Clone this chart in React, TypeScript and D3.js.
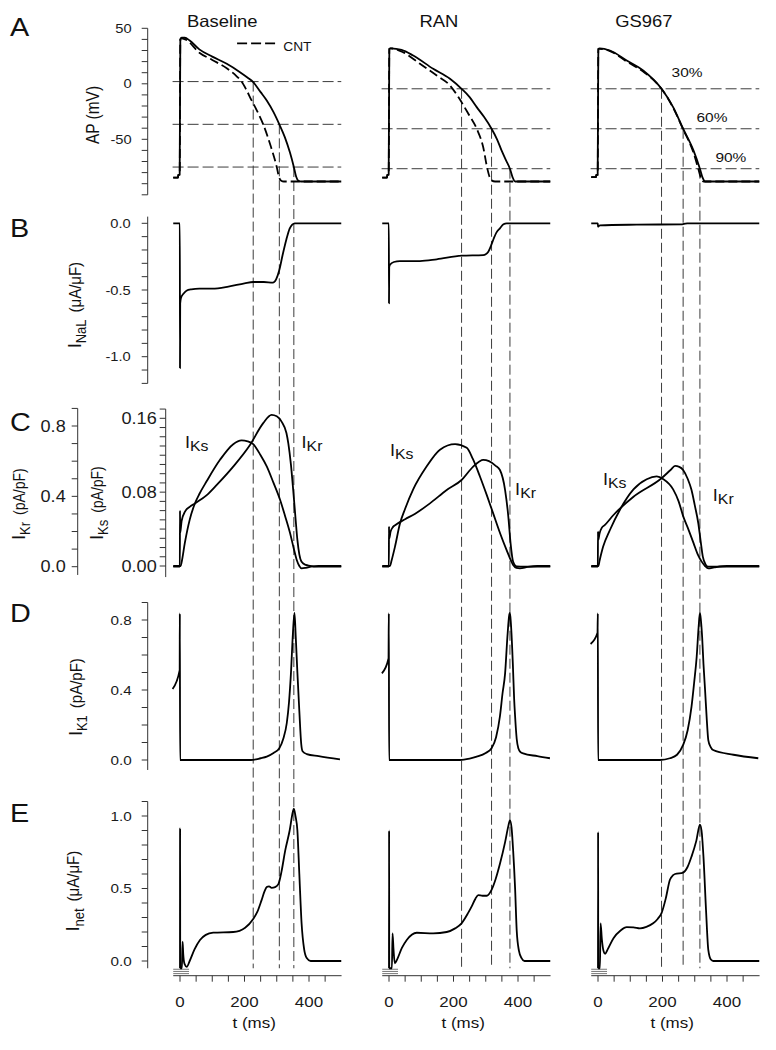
import React from "react";
import * as d3 from "d3";

type P = [number, number];

const columns = ["Baseline", "RAN", "GS967"];

// action potentials (mV), solid = drug, dashed = CNT
const apBase: P[] = [[-21, -84.5], [-6, -84.5], [-5.5, -82], [-1, -82], [1, 40], [5, 41.5], [15, 41.5], [30, 39], [60, 31], [100, 24.5], [145, 18], [186, 10.5], [210, 5.5], [227, 1.5], [250, -7.5], [269, -15], [290, -25.5], [308, -36.5], [325, -48], [341, -62], [353, -75], [360, -83.5], [367, -87.3], [376, -88], [500, -88]];
const apBaseCnt: P[] = [[-21, -84.5], [-6, -84.5], [-5.5, -82], [-1, -82], [1, 40], [5, 41], [20, 39.5], [60, 28], [100, 21.5], [145, 14], [175, 7], [191, 2], [205, -5], [222, -15], [240, -25], [258, -36.5], [280, -55], [300, -75], [307, -84], [314, -87.3], [322, -88], [500, -88]];
const apRan: P[] = [[-21, -84.5], [-6, -84.5], [-5.5, -82], [-1, -82], [1, 31.5], [5, 32], [39, 30.6], [75, 25.5], [137, 13.5], [189, 4.5], [225, -4.5], [250, -12], [272, -21], [295, -30], [318, -40.5], [335, -50], [349, -60], [363, -69], [375, -76.5], [383, -84], [391, -88], [500, -88]];
const apRanCnt: P[] = [[-21, -84.5], [-6, -84.5], [-5.5, -82], [-1, -82], [1, 31.5], [5, 32], [43, 28.5], [96, 18], [148, 7.5], [189, -1.5], [215, -12], [246, -27], [272, -40.5], [292, -57], [305, -76.5], [312, -84], [318, -87], [329, -88], [500, -88]];
const apGs: P[] = [[-21, -84], [-6, -84], [-5.5, -82], [-1, -82], [1, 31.5], [5, 32], [37, 30], [89, 21], [140, 12], [197, -4.5], [233, -21], [264, -40.5], [296, -60], [316, -76.5], [325, -85], [332, -88], [500, -88]];
const apGsCnt: P[] = [[-21, -84], [-6, -84], [-5.5, -82], [-1, -82], [1, 31.5], [5, 31.5], [37, 29.5], [89, 20], [140, 11], [197, -4.5], [233, -21.5], [264, -41], [296, -62], [311, -76.5], [320, -85.5], [328, -88], [500, -88]];

// APD30/60/90 levels (mV) and times (ms)
const apdLevels = [[2, -36.5, -75], [-4.5, -40.5, -76.5], [-4.5, -40.5, -76.5]];
const apdTimes = [[227, 308, 353], [225, 318, 375], [197, 264, 316]];
const apdLabels = ["30%", "60%", "90%"];

// late sodium current (uA/uF)
const nalBase: P[] = [[-21, 0], [-0.5, 0], [0, -1.085], [0.6, -0.6], [3, -0.56], [10, -0.53], [20, -0.505], [35, -0.495], [60, -0.49], [100, -0.49], [150, -0.475], [200, -0.45], [227, -0.44], [260, -0.44], [288, -0.445], [298, -0.42], [308, -0.35], [318, -0.24], [330, -0.12], [340, -0.04], [348, -0.01], [356, 0], [500, 0]];
const nalRan: P[] = [[-21, 0], [-0.5, 0], [0, -0.6], [0.6, -0.33], [3, -0.31], [15, -0.29], [34, -0.283], [96, -0.283], [148, -0.27], [225, -0.243], [292, -0.238], [300, -0.232], [308, -0.213], [316, -0.17], [323, -0.125], [333, -0.07], [344, -0.0375], [355, -0.008], [365, 0], [500, 0]];
const nalGs: P[] = [[-21, 0], [-0.5, 0], [0, -0.025], [3, -0.02], [6, -0.015], [120, -0.01], [261, -0.0075], [270, -0.003], [276, 0], [500, 0]];

// IKs (pA/pF, right axis)
const ksBase: P[] = [[-21, 0], [2, 0], [5, 0.004], [15, 0.025], [30, 0.05], [46.5, 0.068], [60, 0.078], [83, 0.092], [124, 0.115], [165, 0.132], [191, 0.136], [210, 0.135], [227, 0.132], [250, 0.12], [269, 0.108], [290, 0.09], [310, 0.072], [326, 0.054], [341, 0.036], [352, 0.02], [362, 0.0065], [370, 0], [377, -0.0025], [390, -0.002], [410, -0.0005], [430, 0], [500, 0]];
const ksRan: P[] = [[-21, 0], [3, 0], [8, 0.006], [18.6, 0.021], [34, 0.046], [50, 0.062], [75, 0.083], [117, 0.108], [158, 0.126], [205, 0.132], [241, 0.128], [260, 0.116], [282, 0.097], [303, 0.077], [323, 0.057], [345, 0.035], [365, 0.017], [378, 0.006], [385, 0.001], [395, -0.002], [406, -0.0025], [430, -0.001], [460, 0], [500, 0]];
const ksGs: P[] = [[-21, 0], [1, 0], [5, 0.006], [16, 0.021], [37, 0.039], [68, 0.061], [110, 0.083], [151, 0.094], [182, 0.097], [203, 0.094], [233, 0.083], [250, 0.07], [264, 0.054], [280, 0.04], [296, 0.025], [310, 0.012], [321, 0.005], [332, 0], [342, -0.0025], [360, -0.0015], [400, 0], [500, 0]];

// IKr (pA/pF, left axis)
const krBase: P[] = [[-21, 0], [-0.5, 0], [0, 0.318], [0.5, 0.19], [5, 0.26], [15.5, 0.313], [30, 0.34], [46.5, 0.36], [83, 0.407], [114, 0.465], [165, 0.569], [217, 0.692], [258, 0.816], [284, 0.863], [300, 0.855], [315, 0.825], [330, 0.76], [336, 0.7], [344, 0.58], [351, 0.436], [358, 0.28], [364, 0.152], [370, 0.07], [377, 0.028], [390, 0.01], [403, 0.005], [420, 0], [500, 0]];
const krRan: P[] = [[-21, 0], [-0.5, 0], [0, 0.228], [0.5, 0.16], [5, 0.2], [12, 0.225], [20, 0.237], [50, 0.27], [80, 0.3], [127, 0.36], [179, 0.436], [225, 0.493], [261, 0.569], [280, 0.598], [292, 0.607], [310, 0.6], [330, 0.575], [344, 0.55], [360, 0.436], [370, 0.285], [377, 0.133], [385, 0.028], [396, 0.002], [420, 0], [500, 0]];
const krGs: P[] = [[-21, 0], [-0.5, 0], [0, 0.2], [0.5, 0.15], [5, 0.19], [12, 0.222], [20, 0.235], [48, 0.294], [110, 0.398], [197, 0.503], [225, 0.55], [239, 0.573], [252, 0.568], [264, 0.55], [278, 0.5], [290, 0.436], [300, 0.35], [311, 0.247], [318, 0.15], [325, 0.057], [333, 0.015], [342, 0], [500, 0]];

// IK1 (pA/pF)
const k1Base: P[] = [[-23, 0.406], [-1, 0.514], [-0.5, 0.838], [0.3, 0], [220, 0], [250, 0.01], [269, 0.019], [290, 0.04], [308, 0.067], [320, 0.12], [331, 0.21], [338, 0.33], [344, 0.495], [350, 0.72], [355, 0.84], [359, 0.7], [364, 0.5], [370, 0.28], [376, 0.09], [380, 0.05], [393, 0.034], [430, 0.022], [496, 0.003]];
const k1Ran: P[] = [[-22, 0.495], [-1.5, 0.58], [-0.5, 0.838], [0.3, 0], [220, 0], [250, 0.008], [272, 0.019], [300, 0.04], [318, 0.067], [332, 0.13], [344, 0.25], [352, 0.38], [360, 0.495], [367, 0.7], [373, 0.83], [375, 0.84], [378, 0.78], [384, 0.55], [388, 0.35], [391, 0.25], [396, 0.12], [401, 0.067], [408, 0.045], [416, 0.038], [460, 0.022], [499, 0.01]];
const k1Gs: P[] = [[-23, 0.663], [-1.5, 0.727], [-0.5, 0.838], [0.3, 0], [192, 0], [223, 0.01], [245, 0.03], [264, 0.086], [278, 0.17], [290, 0.305], [298, 0.44], [306, 0.59], [312, 0.76], [316, 0.84], [319, 0.8], [323, 0.7], [327, 0.55], [332, 0.4], [337, 0.24], [342, 0.114], [349, 0.075], [357, 0.057], [420, 0.03], [497, 0.01]];

// net current (uA/uF)
const netBase: P[] = [[0, -0.05], [0.3, 0.915], [0.7, -0.05], [6, -0.05], [8, 0.133], [10, 0.05], [14, -0.02], [21, -0.04], [30, 0], [45, 0.08], [62, 0.145], [80, 0.18], [103, 0.195], [165, 0.2], [202, 0.23], [227, 0.29], [240, 0.34], [253, 0.42], [262, 0.48], [269, 0.51], [276, 0.515], [284, 0.505], [295, 0.51], [305, 0.53], [315, 0.62], [326, 0.76], [340, 0.9], [350, 1.03], [353, 1.05], [358, 1.0], [364, 0.9], [370, 0.6], [377, 0.26], [385, 0.08], [393, 0.02], [405, 0], [500, 0]];
const netRan: P[] = [[0, -0.05], [0.3, 0.9], [0.7, -0.05], [9, -0.05], [11, 0.19], [14, 0.08], [18, -0.016], [25, 0.01], [40, 0.09], [55, 0.145], [86, 0.195], [137, 0.19], [179, 0.2], [205, 0.225], [225, 0.26], [245, 0.33], [256, 0.375], [268, 0.43], [277, 0.455], [290, 0.45], [303, 0.45], [318, 0.49], [330, 0.56], [344, 0.67], [360, 0.82], [370, 0.93], [375, 0.97], [380, 0.92], [385, 0.76], [391, 0.5], [396, 0.21], [403, 0.07], [411, 0.02], [420, 0], [500, 0]];
const netGs: P[] = [[0, -0.05], [0.3, 0.89], [0.7, -0.05], [6, -0.05], [8, 0.26], [12, 0.15], [17, 0.07], [22, 0.05], [30, 0.08], [48, 0.157], [70, 0.21], [89, 0.233], [110, 0.232], [130, 0.225], [150, 0.235], [171, 0.26], [185, 0.29], [197, 0.33], [210, 0.43], [223, 0.56], [232, 0.59], [239, 0.6], [264, 0.61], [278, 0.65], [290, 0.72], [305, 0.83], [316, 0.94], [321, 0.9], [327, 0.72], [335, 0.35], [342, 0.077], [350, 0.01], [357, 0], [500, 0]];
const netClipLevels = [-0.057, -0.072, -0.087];

const xTicks = d3.range(0, 451, 50);
const xLabels = [0, 200, 400];

const apSolid = [apBase, apRan, apGs];
const apCnt = [apBaseCnt, apRanCnt, apGsCnt];
const nal = [nalBase, nalRan, nalGs];
const iks = [ksBase, ksRan, ksGs];
const ikr = [krBase, krRan, krGs];
const ik1 = [k1Base, k1Ran, k1Gs];
const inet = [netBase, netRan, netGs];

const FONT = "'Liberation Sans', Arial, Helvetica, sans-serif";
const SX = 1.13; // the figure is slightly stretched horizontally
const AXIS = "#333";
const REF = "#3c3c3c";

const colX0 = [180, 389, 598];
const xs = colX0.map((x0) => d3.scaleLinear().domain([0, 500]).range([x0, x0 + 161.25]));

const yAP = d3.scaleLinear().domain([-50, 50]).range([139.3, 28.3]);
const yNaL = d3.scaleLinear().domain([-1, 0]).range([356.7, 223.3]);
const yKr = d3.scaleLinear().domain([0, 0.8]).range([566.7, 426]);
const yKs = d3.scaleLinear().domain([0, 0.16]).range([566, 418.3]);
const yK1 = d3.scaleLinear().domain([0, 0.8]).range([760, 620]);
const yNet = d3.scaleLinear().domain([0, 1]).range([961, 816]);

const T = ({ x, y, size, anchor = "start", rot = false, children, fill = "#111" }: any) => (
  <text
    transform={`translate(${x},${y}) scale(${SX},1)${rot ? " rotate(-90)" : ""}`}
    fontSize={size}
    textAnchor={anchor}
    fontFamily={FONT}
    fill={fill}
  >
    {children}
  </text>
);

const YAxis = ({ scale, x, ticks, labels, line, fmt, size, gap }: any) => (
  <g>
    <line x1={x} x2={x} y1={scale(line[0])} y2={scale(line[1])} stroke={AXIS} strokeWidth={1} />
    {ticks.map((t: number, i: number) => (
      <line key={i} x1={x - 6} x2={x} y1={scale(t)} y2={scale(t)} stroke={AXIS} strokeWidth={1} />
    ))}
    {labels.map((t: number, i: number) => (
      <T key={i} x={x - gap} y={scale(t) + size * 0.36} size={size} anchor="end" fill="#1a1a1a">
        {fmt(t)}
      </T>
    ))}
  </g>
);

const lineOf = (sx: any, sy: any) =>
  d3.line<P>().x((d) => sx(d[0])).y((d) => sy(d[1])).curve(d3.curveMonotoneX);

const Trace = ({ data, sx, sy, dash }: any) => (
  <path d={lineOf(sx, sy)(data) || ""} fill="none" stroke="#000" strokeWidth={1.8}
    strokeDasharray={dash ? "9 4" : undefined} strokeLinejoin="round" />
);

const SubLabel = ({ x, y, main, sub, size = 16, subSize = 14 }: any) => (
  <text transform={`translate(${x},${y}) scale(${SX},1)`} fontFamily={FONT} fill="#111" fontSize={size}>
    <tspan>{main}</tspan>
    <tspan fontSize={subSize} dy={3}>{sub}</tspan>
  </text>
);

const YTitle = ({ x, y, sub, unit, size = 15, subSize = 13, mainSize = 17 }: any) => (
  <text transform={`translate(${x},${y}) scale(${SX},1) rotate(-90)`} fontFamily={FONT} fill="#111"
    fontSize={size} textAnchor="middle">
    {sub !== undefined ? (
      <>
        <tspan fontSize={mainSize}>I</tspan>
        <tspan fontSize={subSize} dy={4}>{sub}</tspan>
        <tspan dy={-4} dx={7}>{unit}</tspan>
      </>
    ) : (
      <tspan>{unit}</tspan>
    )}
  </text>
);

const f1 = (v: number) => v.toFixed(1);
const f2 = (v: number) => v.toFixed(2);
const f0 = (v: number) => String(v);

export default function App() {
  return (
    <div style={{ position: "absolute", left: 0, top: 0 }}>
      <svg width={776} height={1050} style={{ display: "block", background: "#fff" }}>
        {/* panel letters */}
        {["A", "B", "C", "D", "E"].map((L, i) => (
          <T key={L} x={10} y={[36, 237, 431, 622, 822][i]} size={25.5}>{L}</T>
        ))}

        {/* y axes */}
        <YAxis scale={yAP} x={147.7} ticks={d3.range(-100, 51, 10)} labels={[-50, 0, 50]} line={[-100, 50]} fmt={f0} size={13} gap={16} />
        <YAxis scale={yNaL} x={147.7} ticks={d3.range(-12, 1).map((i) => i / 10)} labels={[-1, -0.5, 0]} line={[-1.2, 0.05]} fmt={f1} size={13} gap={17} />
        <YAxis scale={yKr} x={77.7} ticks={d3.range(0, 10).map((i) => i / 10)} labels={[0, 0.4, 0.8]} line={[-0.047, 0.9]} fmt={f1} size={16} gap={12} />
        <YAxis scale={yKs} x={165.7} ticks={d3.range(0, 18).map((i) => i / 100)} labels={[0, 0.08, 0.16]} line={[-0.012, 0.17]} fmt={f2} size={16} gap={9} />
        <YAxis scale={yK1} x={147.7} ticks={d3.range(0, 10).map((i) => i / 10)} labels={[0, 0.4, 0.8]} line={[-0.057, 0.9]} fmt={f1} size={13.5} gap={16} />
        <YAxis scale={yNet} x={147.7} ticks={d3.range(0, 12).map((i) => i / 10)} labels={[0, 0.5, 1]} line={[-0.05, 1.1]} fmt={f1} size={13.5} gap={16} />

        {/* y titles */}
        <YTitle x={99} y={115} unit="AP (mV)" size={15.5} />
        <YTitle x={81} y={305} sub="NaL" unit="(μA/μF)" />
        <YTitle x={25} y={504} sub="Kr" unit="(pA/pF)" size={14} />
        <YTitle x={103} y={503} sub="Ks" unit="(pA/pF)" size={14} />
        <YTitle x={82} y={697} sub="K1" unit="(pA/pF)" />
        <YTitle x={79} y={891} sub="net" unit="(μA/μF)" />

        {columns.map((name, c) => {
          const sx = xs[c];
          return (
            <g key={name}>
              {/* column title */}
              {c === 0 ? (
                <T x={sx(21.7)} y={27} size={16.3}>{name}</T>
              ) : (
                <T x={sx(c === 1 ? 155 : 142)} y={27} size={16.3} anchor="middle">{name}</T>
              )}

              {/* APD reference lines */}
              {apdLevels[c].map((v, i) => (
                <line key={"h" + i} x1={sx(-23)} x2={sx(500)} y1={yAP(v)} y2={yAP(v)}
                  stroke={REF} strokeWidth={1} strokeDasharray="11 4" />
              ))}
              {apdTimes[c].map((t, i) => (
                <line key={"v" + i} x1={sx(t)} x2={sx(t)} y1={yAP(apdLevels[c][i])} y2={yNet(-0.05)}
                  stroke={REF} strokeWidth={1} strokeDasharray="10 4" />
              ))}

              {/* traces */}
              <Trace data={apCnt[c]} sx={sx} sy={yAP} dash />
              <Trace data={apSolid[c]} sx={sx} sy={yAP} />
              <Trace data={nal[c]} sx={sx} sy={yNaL} />
              <Trace data={iks[c]} sx={sx} sy={yKs} />
              <Trace data={ikr[c]} sx={sx} sy={yKr} />
              <Trace data={ik1[c]} sx={sx} sy={yK1} />
              {netClipLevels.map((v, i) => (
                <line key={"c" + i} x1={sx(-21)} x2={sx(28)} y1={yNet(v)} y2={yNet(v)} stroke="#777" strokeWidth={1} />
              ))}
              <Trace data={inet[c]} sx={sx} sy={yNet} />

              {/* x axis */}
              <line x1={sx(-21)} x2={sx(501)} y1={975.7} y2={975.7} stroke={AXIS} strokeWidth={1} />
              {xTicks.map((t) => (
                <line key={t} x1={sx(t)} x2={sx(t)} y1={975.7} y2={981.7} stroke={AXIS} strokeWidth={1} />
              ))}
              {xLabels.map((t) => (
                <T key={t} x={sx(t)} y={1006.5} size={15} anchor="middle" fill="#1a1a1a">{t}</T>
              ))}
              <T x={sx(230)} y={1028} size={15} anchor="middle">t (ms)</T>
            </g>
          );
        })}

        {/* CNT legend */}
        <line x1={xs[0](177)} x2={xs[0](304)} y1={yAP(36.5)} y2={yAP(36.5)} stroke="#000" strokeWidth={1.8} strokeDasharray="10 4" />
        <T x={xs[0](320)} y={yAP(30)} size={12.2}>CNT</T>

        {/* APD percentage labels */}
        {apdLabels.map((s, i) => (
          <T key={s} x={xs[2]([276, 353.5, 412][i])} y={yAP([5.9, -34.7, -70.2][i])} size={13.7} anchor="middle">{s}</T>
        ))}

        {/* current labels */}
        <SubLabel x={xs[0](15.5)} y={yKs(0.128)} main="I" sub="Ks" />
        <SubLabel x={xs[0](377)} y={yKs(0.128)} main="I" sub="Kr" />
        <SubLabel x={xs[1](3)} y={yKs(0.119)} main="I" sub="Ks" />
        <SubLabel x={xs[1](391)} y={yKs(0.077)} main="I" sub="Kr" />
        <SubLabel x={xs[2](15.5)} y={yKs(0.088)} main="I" sub="Ks" />
        <SubLabel x={xs[2](356)} y={yKs(0.07)} main="I" sub="Kr" />
      </svg>
    </div>
  );
}
